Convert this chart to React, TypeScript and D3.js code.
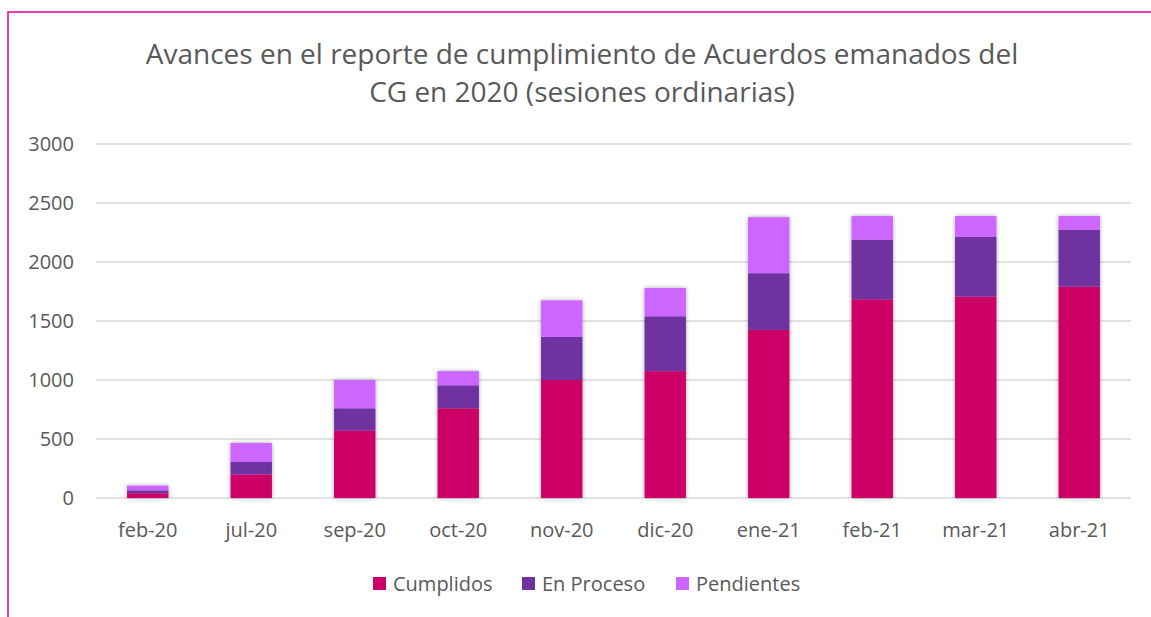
import React from "react";
import * as d3 from "d3";

const months = ["feb-20", "jul-20", "sep-20", "oct-20", "nov-20", "dic-20", "ene-21", "feb-21", "mar-21", "abr-21"];
const cumplidos = [40, 200, 570, 760, 1000, 1075, 1425, 1684, 1706, 1791];
const enProceso = [25, 105, 190, 195, 365, 465, 480, 505, 506, 483];
const pendientes = [40, 161, 240, 120, 310, 240, 475, 200, 178, 116];
const seriesNames = ["Cumplidos", "En Proceso", "Pendientes"];
const seriesColors = ["#cc0066", "#7030a0", "#cc66ff"];
const yTicks = [0, 500, 1000, 1500, 2000, 2500, 3000];

const W = 1151, H = 617;
const FONT = "'Open Sans', sans-serif";

export default function App() {
  const rows = months.map((m, i) => ({ m, Cumplidos: cumplidos[i], "En Proceso": enProceso[i], Pendientes: pendientes[i] }));
  const stack = d3.stack<any>().keys(seriesNames)(rows);
  const x = d3.scaleBand().domain(months).range([96, 1131]).paddingInner(0.6).paddingOuter(0.3);
  const y = d3.scaleLinear().domain([0, 3000]).range([498, 144]);

  const legendX = [373, 522, 676];

  return (
    <svg width={W} height={H} style={{ position: "absolute", left: 0, top: 0 }}>
      <defs>
        <filter id="sh" x="-30%" y="-30%" width="160%" height="160%">
          <feDropShadow dx="0" dy="0" stdDeviation="2" floodColor="#000" floodOpacity="0.35" />
        </filter>
      </defs>
      <rect width={W} height={H} fill="#fff" />
      <path d={`M8,${H} V12 H${W}`} fill="none" stroke="#e0009a" strokeWidth={1.5} />
      <text x={582} y={63.5} textAnchor="middle" fontFamily={FONT} fontSize={28} fill="#595959">
        Avances en el reporte de cumplimiento de Acuerdos emanados del
      </text>
      <text x={582} y={102} textAnchor="middle" fontFamily={FONT} fontSize={28} fill="#595959">
        CG en 2020 (sesiones ordinarias)
      </text>
      {yTicks.map(t => (
        <g key={t}>
          <line x1={96} x2={1131} y1={y(t)} y2={y(t)} stroke="#d9d9d9" strokeWidth={1.5} />
          <text x={74} y={y(t) + 7} textAnchor="end" fontFamily={FONT} fontSize={20} fill="#595959">{t}</text>
        </g>
      ))}
      <g filter="url(#sh)">
        {stack.map((s, si) => (
          <g key={si} fill={seriesColors[si]}>
            {s.map((d, i) => (
              <rect key={i} x={x(months[i])} width={x.bandwidth()} y={y(d[1])} height={y(d[0]) - y(d[1])} />
            ))}
          </g>
        ))}
      </g>
      {months.map(m => (
        <text key={m} x={(x(m) as number) + x.bandwidth() / 2} y={537} textAnchor="middle" fontFamily={FONT} fontSize={20} fill="#595959">{m}</text>
      ))}
      {seriesNames.map((n, i) => (
        <g key={n}>
          <rect x={legendX[i]} y={577} width={13} height={13} fill={seriesColors[i]} />
          <text x={legendX[i] + 20} y={591} fontFamily={FONT} fontSize={20} fill="#595959">{n}</text>
        </g>
      ))}
    </svg>
  );
}
